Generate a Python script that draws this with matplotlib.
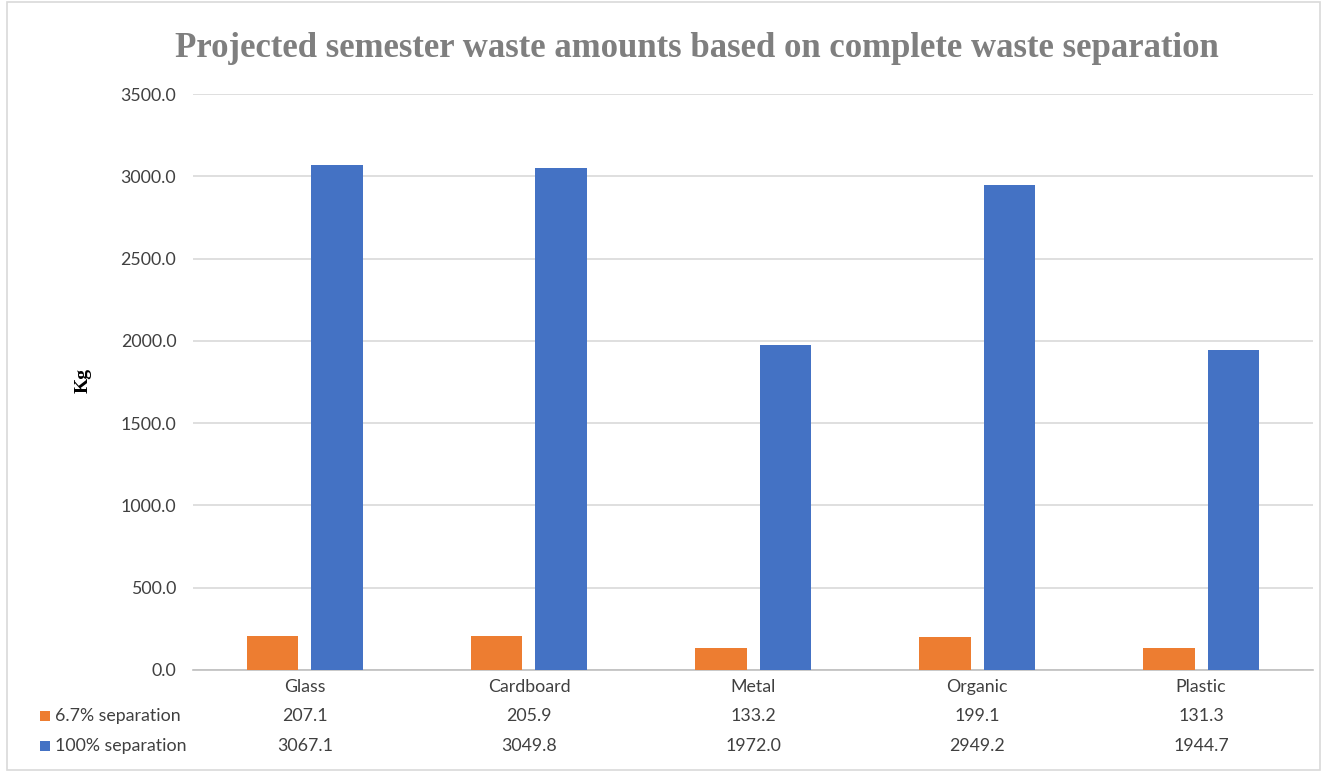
import numpy as np
import matplotlib.pyplot as plt
from matplotlib.patches import Rectangle

categories = ['Glass', 'Cardboard', 'Metal', 'Organic', 'Plastic']
sep_6_7 = [207.1, 205.9, 133.2, 199.1, 131.3]
sep_100 = [3067.1, 3049.8, 1972.0, 2949.2, 1944.7]
series_names = ['6.7% separation', '100% separation']

orange = '#ed7d31'
blue = '#4472c4'
text_c = '#404040'
grid_c = '#d9d9d9'
label_font = 'Lato'
fs = 12.8

fig = plt.figure(figsize=(13.27, 7.71), dpi=100, facecolor='white')
ax = fig.add_axes([0.1454, 0.131, 0.8441, 0.747])

x = np.arange(len(categories))
off = 0.143
w = 0.228
ax.bar(x - off, sep_6_7, width=w, color=orange, zorder=3)
ax.bar(x + off, sep_100, width=w, color=blue, zorder=3)

ax.set_xlim(-0.5, len(categories) - 0.5)
ax.set_ylim(0, 3500)
ax.set_yticks(np.arange(0, 3501, 500))
ax.set_yticklabels([f'{v:.1f}' for v in np.arange(0, 3501, 500)],
                   fontsize=fs, color=text_c, family=label_font)
ax.set_xticks([])
ax.yaxis.grid(True, color=grid_c, linewidth=1.2, zorder=0)
ax.tick_params(axis='y', length=0, pad=12)
for s in ['top', 'right', 'left']:
    ax.spines[s].set_visible(False)
ax.spines['bottom'].set_color('#bfbfbf')
ax.spines['bottom'].set_linewidth(1.2)

ax.set_ylabel('Kg', fontsize=14, fontweight='bold', family='Liberation Serif',
              color='black')
ax.yaxis.set_label_coords(-0.09, 0.503)

fig.text(0.525, 0.937, 'Projected semester waste amounts based on complete waste separation',
         ha='center', va='center', fontsize=25, fontweight='bold',
         family='Liberation Serif', color='#7f7f7f')

# data table under the axis
trans = ax.get_xaxis_transform()
row_y = [687, 716, 746]
for i, cat in enumerate(categories):
    ax.text(x[i], 1 - (row_y[0] - 94) / 576, cat, transform=trans, ha='center', va='center',
            fontsize=fs, color=text_c, family=label_font)
    ax.text(x[i], 1 - (row_y[1] - 94) / 576, f'{sep_6_7[i]:.1f}', transform=trans,
            ha='center', va='center', fontsize=fs, color=text_c, family=label_font)
    ax.text(x[i], 1 - (row_y[2] - 94) / 576, f'{sep_100[i]:.1f}', transform=trans,
            ha='center', va='center', fontsize=fs, color=text_c, family=label_font)

for name, col, yy in zip(series_names, [orange, blue], row_y[1:]):
    fig.patches.append(Rectangle((40 / 1327, 1 - (yy + 5) / 771), 10 / 1327, 10 / 771,
                                 transform=fig.transFigure, facecolor=col, edgecolor='none'))
    fig.text(55 / 1327, 1 - yy / 771, name, ha='left', va='center', fontsize=fs,
             color=text_c, family=label_font)

# chart border
fig.patches.append(Rectangle((7 / 1327, 1 / 771), 1313 / 1327, 768 / 771,
                             transform=fig.transFigure, facecolor='none',
                             edgecolor='#d9d9d9', linewidth=1.2))

fig.savefig('out.png', dpi=100, facecolor='white')
